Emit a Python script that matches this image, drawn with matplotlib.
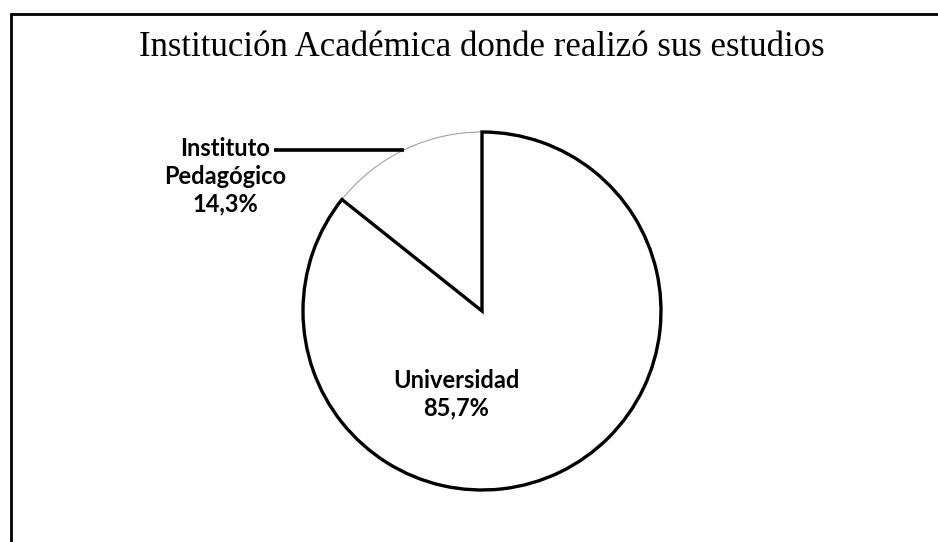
import matplotlib.pyplot as plt
import matplotlib.patches as patches

# Datos
categorias = ["Universidad", "Instituto Pedagógico"]
porcentajes = [85.7, 14.3]
etiquetas = ["Universidad\n85,7%", "Instituto\nPedagógico\n14,3%"]

W, H = 938, 542
fig = plt.figure(figsize=(W / 100, H / 100), dpi=100)
ax = fig.add_axes([0, 0, 1, 1])

# Marco del gráfico
fig.patches.append(patches.Rectangle((11 / W, -0.01), 1.0, (H - 14) / H + 0.01,
                                     transform=fig.transFigure, fill=False,
                                     edgecolor="black", lw=2))

# Coordenadas en píxeles, eje y hacia abajo
cx, cy, r = 482, 311, 179
wedges, _ = ax.pie(porcentajes, center=(cx, cy), radius=r, startangle=-90,
                   counterclock=True, colors=["white", "white"], frame=True)
ax.set_xlim(0, W)
ax.set_ylim(H, 0)
ax.set_aspect("equal")
ax.axis("off")

wedges[0].set_edgecolor("black")
wedges[0].set_linewidth(2.4)
wedges[0].set_zorder(3)
wedges[1].set_edgecolor("#a0a0a0")
wedges[1].set_linewidth(0.8)

fuente = ["Lato", "DejaVu Sans"]
ax.text(456, 394, etiquetas[0], ha="center", va="center", fontsize=17,
        fontweight="bold", family=fuente, linespacing=1.25)
ax.text(225, 176, etiquetas[1], ha="center", va="center", fontsize=17,
        fontweight="bold", family=fuente, linespacing=1.25)

# Línea guía
ax.plot([274, 404], [150, 150], color="black", lw=2.6, solid_capstyle="butt")

ax.text(482, 47, "Institución Académica donde realizó sus estudios",
        ha="center", va="center", fontsize=25, family="Liberation Serif")

fig.savefig("out.png", dpi=100)
